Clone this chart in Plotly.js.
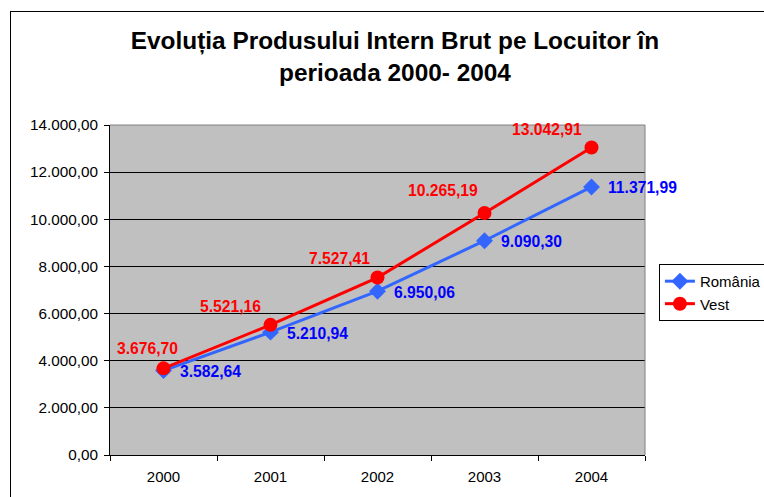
<!DOCTYPE html>
<html>
<head>
<meta charset="utf-8">
<script src="https://cdn.plot.ly/plotly-3.0.1.min.js"></script>
<style>
html,body{margin:0;padding:0;background:#fff;overflow:hidden;}
#chart{width:764px;height:497px;position:absolute;left:0;top:0;}
#frame{position:absolute;left:10px;top:11px;width:900px;height:700px;border:1px solid #000;pointer-events:none;}
</style>
</head>
<body>
<div id="chart"></div>
<div id="frame"></div>
<script>
// ---- data ----
const years = ['2000', '2001', '2002', '2003', '2004'];
const romania = [3582.64, 5210.94, 6950.06, 9090.30, 11371.99];
const vest = [3676.70, 5521.16, 7527.41, 10265.19, 13042.91];
const seriesNames = ['România', 'Vest'];
const titleText = 'Evoluția Produsului Intern Brut pe Locuitor în<br>perioada 2000- 2004';

// ---- label placement (styling only) ----
const vestLabelShiftX = [-16, -40, -38, -42, -45];
const vestLabelShiftY = [20, 18, 19, 23, 18];

function fmt(v) {
  const parts = v.toFixed(2).split('.');
  const intPart = parts[0].replace(/\B(?=(\d{3})+(?!\d))/g, '.');
  return intPart + ',' + parts[1];
}

const FONT = 'Liberation Sans, Arial, sans-serif';

const traces = [
  {
    x: years, y: romania, name: seriesNames[0], type: 'scatter', mode: 'lines+markers',
    line: {color: '#3366FF', width: 3},
    marker: {symbol: 'diamond', size: 13, color: '#3366FF'}
  },
  {
    x: years, y: vest, name: seriesNames[1], type: 'scatter', mode: 'lines+markers',
    line: {color: '#FF0000', width: 3},
    marker: {symbol: 'circle', size: 14, color: '#FF0000'}
  }
];

const annotations = [];
for (let i = 0; i < years.length; i++) {
  annotations.push({
    x: i, y: romania[i], xref: 'x', yref: 'y', text: '<b>' + fmt(romania[i]) + '</b>',
    showarrow: false, xanchor: 'left', yanchor: 'middle', xshift: 14, yshift: -1,
    font: {family: FONT, size: 15.7, color: '#0000FF'}
  });
  annotations.push({
    x: i, y: vest[i], xref: 'x', yref: 'y', text: '<b>' + fmt(vest[i]) + '</b>',
    showarrow: false, xanchor: 'center', yanchor: 'middle',
    xshift: vestLabelShiftX[i], yshift: vestLabelShiftY[i],
    font: {family: FONT, size: 15.7, color: '#FF0000'}
  });
}

const layout = {
  width: 764, height: 497,
  margin: {l: 110, r: 119, t: 125, b: 42, autoexpand: false},
  paper_bgcolor: 'rgba(0,0,0,0)',
  plot_bgcolor: '#C0C0C0',
  separators: ',.',
  font: {family: FONT, size: 15, color: '#000'},
  title: {
    text: '<b>' + titleText.replace('<br>', '</b><br><b>') + '</b>',
    font: {family: FONT, size: 24.4, color: '#000'},
    x: 395 / 764, xref: 'container', xanchor: 'center',
    y: 1 - 49 / 497, yref: 'container', yanchor: 'top'
  },
  xaxis: {
    type: 'category', range: [-0.5, 4.5],
    showline: true, linecolor: '#000', linewidth: 1,
    ticks: 'outside', tickson: 'boundaries', ticklen: 5, tickcolor: '#000',
    showgrid: false, zeroline: false,
    ticklabelstandoff: 8,
    tickfont: {family: FONT, size: 15, color: '#000'}
  },
  yaxis: {
    range: [0, 14000], dtick: 2000, tick0: 0,
    tickformat: ',.2f',
    showline: true, linecolor: '#000', linewidth: 1,
    ticks: 'outside', ticklen: 5, tickcolor: '#000',
    showgrid: true, gridcolor: '#000', gridwidth: 1,
    zeroline: false,
    ticklabelstandoff: 3,
    tickfont: {family: FONT, size: 15.3, color: '#000'}
  },
  shapes: [
    {type: 'line', xref: 'paper', yref: 'paper', x0: 0, x1: 1, y0: 1, y1: 1, line: {color: '#808080', width: 1}},
    {type: 'line', xref: 'paper', yref: 'paper', x0: 1, x1: 1, y0: 0, y1: 1, line: {color: '#808080', width: 1}}
  ],
  showlegend: true,
  legend: {
    x: 1.026, xanchor: 'left', y: 0.579, yanchor: 'top',
    bgcolor: '#FFFFFF', bordercolor: '#000', borderwidth: 1,
    font: {family: FONT, size: 15, color: '#000'},
    traceorder: 'normal', tracegroupgap: 0
  },
  annotations: annotations
};

Plotly.newPlot('chart', traces, layout, {displayModeBar: false, staticPlot: true});
</script>
</body>
</html>
